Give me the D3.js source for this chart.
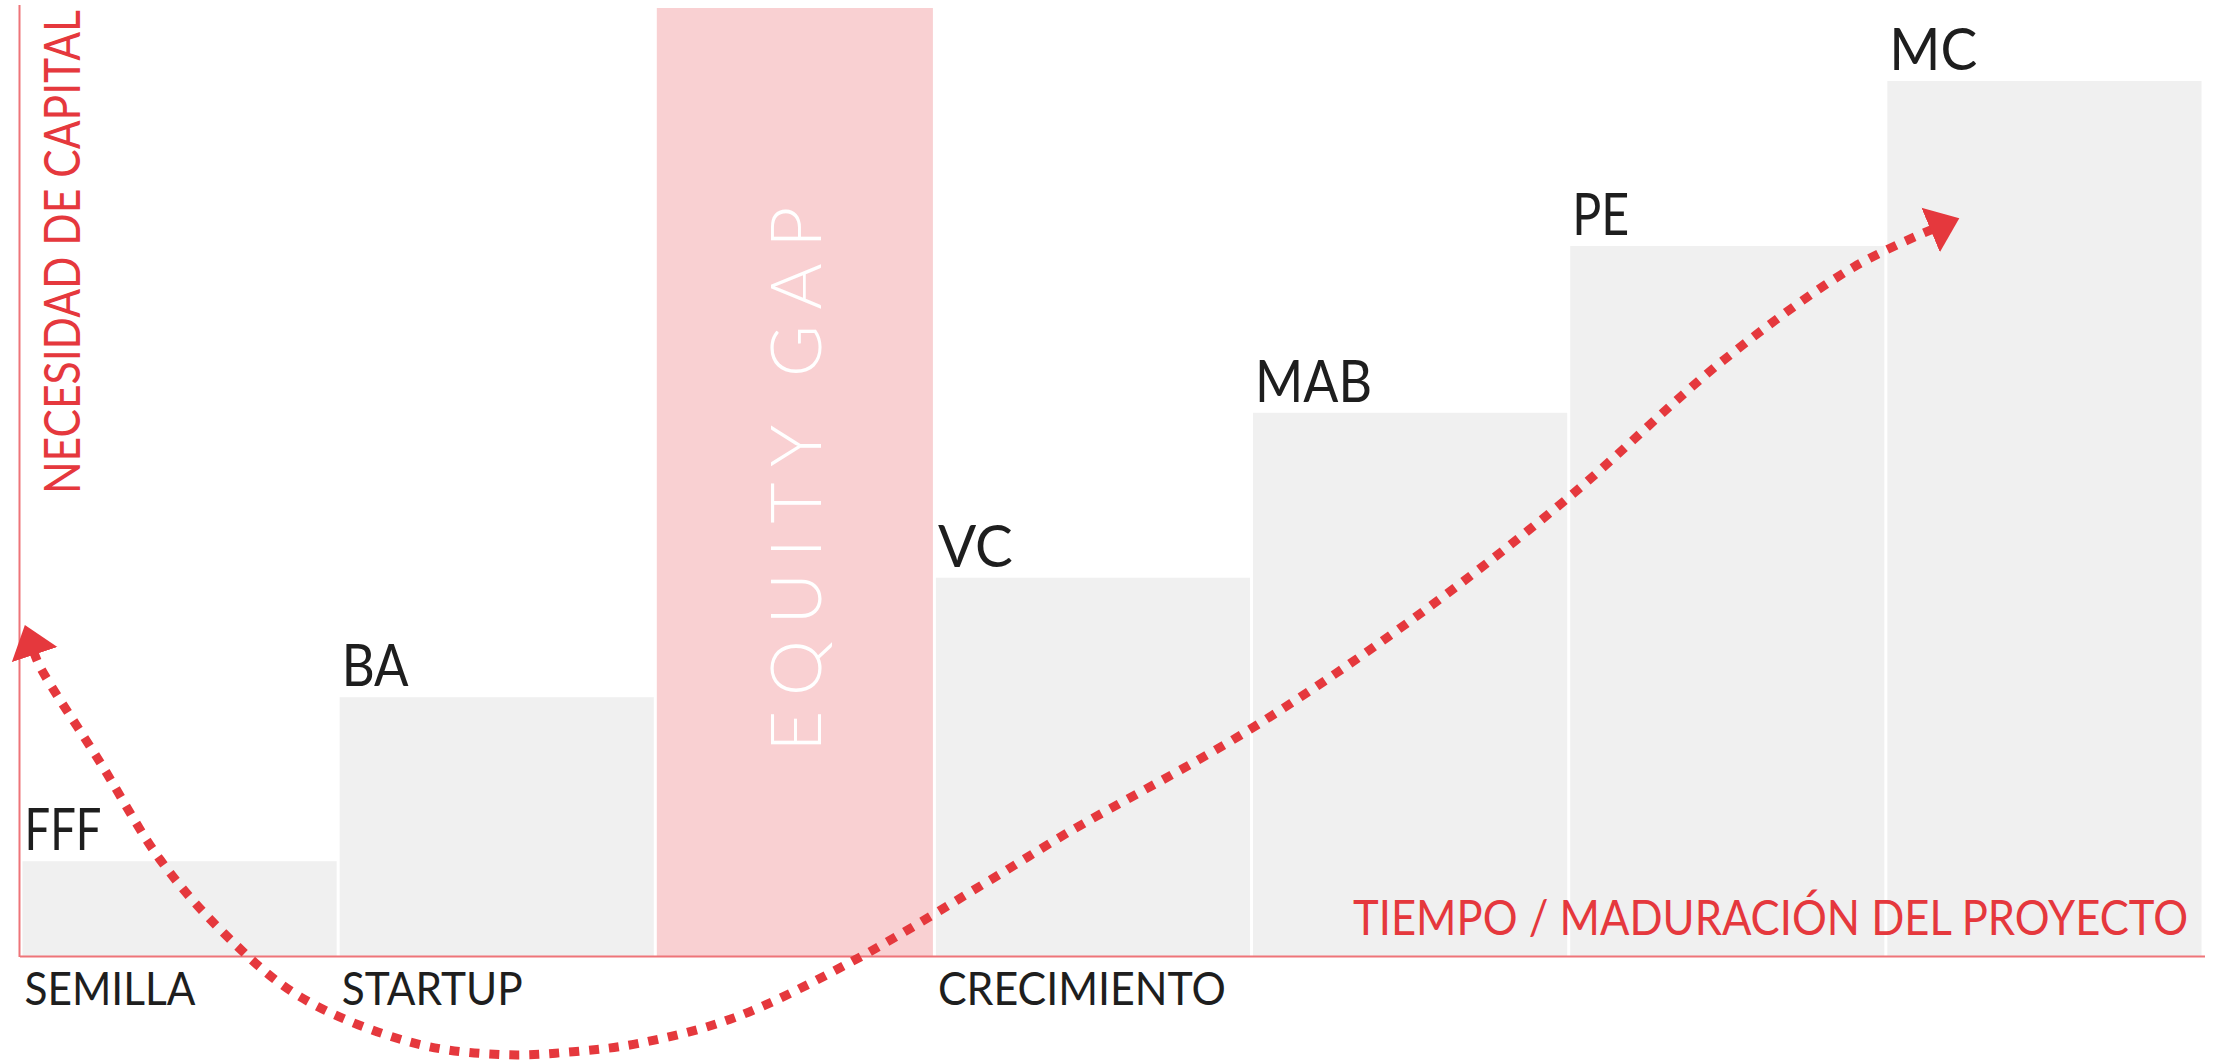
<!DOCTYPE html>
<html>
<head>
<meta charset="utf-8">
<script src="https://cdn.jsdelivr.net/npm/d3@7"></script>
<style>
  body { margin: 0; background: #fff; }
  svg { display: block; }
  text { font-family: Lato, "Open Sans", sans-serif; }
</style>
</head>
<body>
<div id="the_chart"></div>
<script>
// stages of financing, left to right
var stages = ["FFF", "BA", "EQUITY GAP", "VC", "MAB", "PE", "MC"];
var stageWidths = [1, 1, 0.88, 1, 1, 1, 1];
var capitalNeed = [10, 27.3, 100, 39.9, 57.3, 74.9, 92.3];

// phases written under the axis
var phases = ["SEMILLA", "STARTUP", "CRECIMIENTO"];
var phaseStage = ["FFF", "BA", "VC"];

var yTitle = "NECESIDAD DE CAPITAL";
var xTitle = "TIEMPO / MADURACIÓN DEL PROYECTO";
var gapLabel = "EQUITY GAP";

// the dotted arrow, in stage units (x) and capital units (y)
var curveX = [0.04, 0.06, 0.25, 0.44, 0.64, 0.88, 1.24, 1.52, 1.74, 1.95, 2.25, 2.63, 3.07, 3.30, 3.87, 4.37, 4.87, 5.37, 5.78, 6.03];
var curveY = [32.1, 30.5, 20.4, 10.1, 2.4, -4.3, -9.2, -10.4, -10.1, -9.2, -6.5, -0.4, 8.3, 13.0, 23.8, 35.1, 48.1, 62.9, 72.7, 76.7];

// drawn widths of the condensed labels (px)
var labelWidth = {
  "FFF": 77, "BA": 67, "VC": 75, "MAB": 117, "PE": 57, "MC": 88,
  "SEMILLA": 171, "STARTUP": 181, "CRECIMIENTO": 288
};

var w = 2226;
var h = 1063;
var red = "#e5383d";

var svg = d3.select("#the_chart")
  .append("svg")
  .attr("width", w)
  .attr("height", h);

var starts = Array.from(d3.cumsum([0].concat(stageWidths)));

var xscale = d3.scaleLinear()
  .domain([0, d3.sum(stageWidths)])
  .range([21, 2203]);

var yscale = d3.scaleLinear()
  .domain([0, 100])
  .range([956, 8]);

var data = stages.map(function (s, i) {
  return { name: s, value: capitalNeed[i], x0: starts[i], x1: starts[i + 1] };
});

// bars
svg.selectAll("rect.bar")
  .data(data)
  .enter().append("rect")
  .attr("class", "bar")
  .attr("x", function (d) { return xscale(d.x0) + 1.5; })
  .attr("width", function (d) { return xscale(d.x1) - xscale(d.x0) - 3; })
  .attr("y", function (d) { return yscale(d.value); })
  .attr("height", function (d) { return yscale(0) - yscale(d.value); })
  .attr("fill", function (d) { return d.name == gapLabel ? "#f9d0d2" : "#f0f0f0"; });

// axes, only the lines
var xaxis = d3.axisBottom(xscale).tickValues([]).tickSizeOuter(0);
var yaxis = d3.axisLeft(yscale).tickValues([]).tickSizeOuter(0);

svg.append("g")
  .attr("transform", "translate(0,956.5)")
  .call(xaxis)
  .select(".domain")
  .attr("d", "M20,0H2205")
  .attr("stroke", "#ee7479")
  .attr("stroke-width", 2);

svg.append("g")
  .attr("transform", "translate(19.5,0)")
  .call(yaxis)
  .select(".domain")
  .attr("d", "M0,957V5")
  .attr("stroke", "#ee7479")
  .attr("stroke-width", 2);

// labels on top of bars
svg.selectAll("text.stage")
  .data(data.filter(function (d) { return d.name != gapLabel; }))
  .enter().append("text")
  .attr("class", "stage")
  .attr("x", function (d) { return xscale(d.x0) + 3.5; })
  .attr("y", function (d) { return yscale(d.value) - 11; })
  .attr("font-size", 58)
  .attr("fill", "#1e1e1e")
  .attr("textLength", function (d) { return labelWidth[d.name]; })
  .attr("lengthAdjust", "spacingAndGlyphs")
  .text(function (d) { return d.name; });

// phase names under the axis
svg.selectAll("text.phase")
  .data(phases)
  .enter().append("text")
  .attr("class", "phase")
  .attr("x", function (p, i) {
    var d = data[stages.indexOf(phaseStage[i])];
    return xscale(d.x0) + 3.5;
  })
  .attr("y", 1005)
  .attr("font-size", 46)
  .attr("fill", "#1e1e1e")
  .attr("textLength", function (p) { return labelWidth[p]; })
  .attr("lengthAdjust", "spacingAndGlyphs")
  .text(function (p) { return p; });

// equity gap text
var gap = data[stages.indexOf(gapLabel)];
svg.append("text")
  .attr("transform", "translate(" + ((xscale(gap.x0) + xscale(gap.x1)) / 2 + 26) + "," + yscale(50.3) + ") rotate(-90)")
  .attr("text-anchor", "middle")
  .attr("font-size", 71)
  .attr("font-weight", 300)
  .attr("fill", "#fff")
  .attr("textLength", 545)
  .attr("lengthAdjust", "spacing")
  .text(gapLabel);

// axis titles
svg.append("text")
  .attr("transform", "translate(80,494) rotate(-90)")
  .attr("font-size", 50)
  .attr("fill", red)
  .attr("textLength", 484)
  .attr("lengthAdjust", "spacingAndGlyphs")
  .text(yTitle);

svg.append("text")
  .attr("x", 2188)
  .attr("y", 935)
  .attr("text-anchor", "end")
  .attr("font-size", 48)
  .attr("fill", red)
  .attr("textLength", 835)
  .attr("lengthAdjust", "spacingAndGlyphs")
  .text(xTitle);

// dotted arrow
var defs = svg.append("defs");
defs.append("marker")
  .attr("id", "head")
  .attr("markerUnits", "userSpaceOnUse")
  .attr("viewBox", "0 -25 34 50")
  .attr("markerWidth", 34)
  .attr("markerHeight", 50)
  .attr("refX", 3)
  .attr("refY", 0)
  .attr("orient", "auto-start-reverse")
  .append("path")
  .attr("d", "M0,-24L31,0L0,24Z")
  .attr("fill", red);

var pts = curveX.map(function (cx, i) { return [cx, curveY[i]]; });

var line = d3.line()
  .x(function (d) { return xscale(d[0]); })
  .y(function (d) { return yscale(d[1]); })
  .curve(d3.curveCatmullRom);

svg.append("path")
  .datum(pts)
  .attr("d", line)
  .attr("fill", "none")
  .attr("stroke", red)
  .attr("stroke-width", 9)
  .attr("stroke-dasharray", "10 10")
  .attr("marker-start", "url(#head)")
  .attr("marker-end", "url(#head)");
</script>
</body>
</html>
